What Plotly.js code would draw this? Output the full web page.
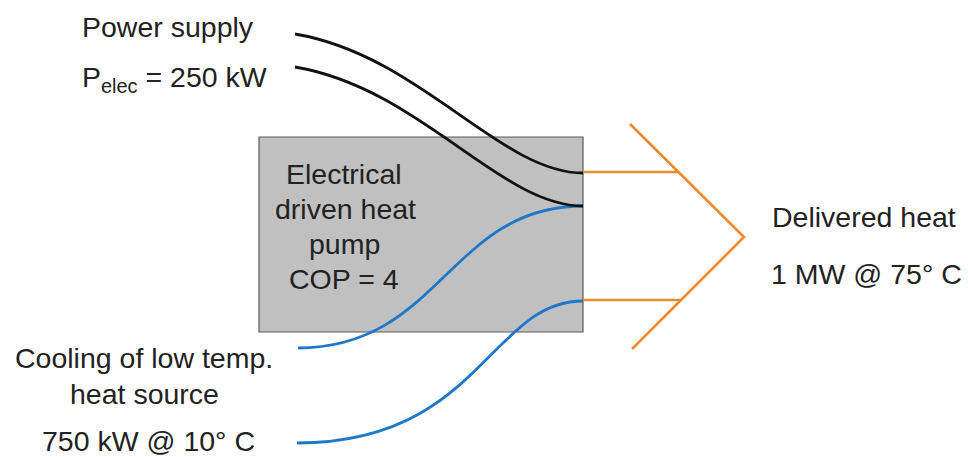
<!DOCTYPE html>
<html>
<head>
<meta charset="utf-8">
<script src="https://cdn.plot.ly/plotly-3.0.1.min.js"></script>
<style>html,body{margin:0;padding:0;background:#fff;}#chart{width:968px;height:457px;}</style>
</head>
<body>
<div id="chart"></div>
<script>
// Diagram geometry (pixel-like data units on a 968 x 457 canvas)
var boxX = [259, 583];
var boxY = [137, 332];
// Power supply wires: start points, end points, control points
var blackStartX = [295, 295];
var blackStartY = [34, 67];
var blackEndX = [583, 583];
var blackEndY = [173, 206];
var blackCtrl1 = [[420, 55], [420, 88]];
var blackCtrl2 = [[500, 173], [500, 206]];
// Heat-source wires
var blueStartX = [298, 297];
var blueStartY = [348, 443];
var blueEndX = [583, 583];
var blueEndY = [206, 301];
var blueCtrl1 = [[440, 348], [480, 443]];
var blueCtrl2 = [[450, 206], [490, 301]];
// Delivered heat arrow
var orangeLineX = [[583, 678], [583, 681]];
var orangeLineY = [[172, 172], [300, 300]];
var chevronX = [630, 744, 632];
var chevronY = [124, 237, 349];
// Labels
var labelText = ["Power supply", "P<sub>elec</sub> = 250 kW",
  "Electrical", "driven heat", "pump", "COP = 4",
  "Delivered heat", "1 MW @ 75° C",
  "Cooling of low temp.", "heat source", "750 kW @ 10° C"];
var labelX = [80, 80, 344, 345, 344, 344, 770, 769, 144, 144, 148];
var labelY = [27, 79, 174, 209, 244, 279, 217, 274, 358, 394, 441];
var labelAnchor = ["left", "left", "center", "center", "center", "center", "left", "left", "center", "center", "center"];

var BLACK = "#111111", BLUE = "#1E78C8", ORANGE = "#EF8A2B";

var shapes = [];
shapes.push({type: "rect", xref: "x", yref: "y", x0: boxX[0], x1: boxX[1], y0: boxY[0], y1: boxY[1],
  fillcolor: "#C0C0C0", line: {color: "#5a5a5a", width: 1.2}, layer: "above"});
function curve(x0, y0, c1, c2, x1, y1, color) {
  return {type: "path", xref: "x", yref: "y",
    path: "M " + x0 + "," + y0 + " C " + c1[0] + "," + c1[1] + " " + c2[0] + "," + c2[1] + " " + x1 + "," + y1,
    line: {color: color, width: 2.8}, layer: "above"};
}
for (var i = 0; i < 2; i++) {
  shapes.push(curve(blackStartX[i], blackStartY[i], blackCtrl1[i], blackCtrl2[i], blackEndX[i], blackEndY[i], BLACK));
  shapes.push(curve(blueStartX[i], blueStartY[i], blueCtrl1[i], blueCtrl2[i], blueEndX[i], blueEndY[i], BLUE));
  shapes.push({type: "line", xref: "x", yref: "y", x0: orangeLineX[i][0], x1: orangeLineX[i][1],
    y0: orangeLineY[i][0], y1: orangeLineY[i][1], line: {color: ORANGE, width: 2.6}, layer: "above"});
}
shapes.push({type: "path", xref: "x", yref: "y",
  path: "M " + chevronX[0] + "," + chevronY[0] + " L " + chevronX[1] + "," + chevronY[1] + " L " + chevronX[2] + "," + chevronY[2],
  line: {color: ORANGE, width: 2.6}, layer: "above"});

var annotations = labelText.map(function (t, k) {
  return {x: labelX[k], y: labelY[k], xref: "x", yref: "y", text: t, showarrow: false,
    xanchor: labelAnchor[k], yanchor: "middle",
    font: {family: "Liberation Sans, Arial, sans-serif", size: 28.5, color: "#222222"}};
});

var layout = {
  width: 968, height: 457,
  margin: {l: 0, r: 0, t: 0, b: 0},
  paper_bgcolor: "#ffffff", plot_bgcolor: "#ffffff",
  xaxis: {range: [0, 968], visible: false, fixedrange: true},
  yaxis: {range: [457, 0], visible: false, fixedrange: true},
  showlegend: false,
  shapes: shapes,
  annotations: annotations
};
Plotly.newPlot("chart", [{x: [], y: [], type: "scatter", mode: "lines"}], layout, {staticPlot: true, displayModeBar: false});
</script>
</body>
</html>
